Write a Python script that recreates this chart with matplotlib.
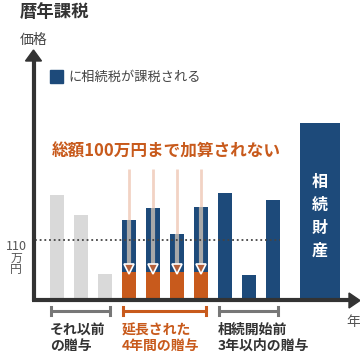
import matplotlib
matplotlib.use("Agg")
import matplotlib.pyplot as plt
from matplotlib.patches import Polygon

plt.rcParams['font.family'] = ['Noto Sans CJK JP', 'DejaVu Sans']

# values (arbitrary price units, 110 = 110万円 line)
threshold = 110
earlier_gifts = [192, 156, 48]
extended_gifts = [147, 169, 121, 170]
deducted = [51, 51, 51, 51]
recent_gifts = [196, 46, 183]
estate = 325
group_labels = ['それ以前\nの贈与', '延長された\n4年間の贈与', '相続開始前\n3年以内の贈与']

GRAY = '#d9d9d9'
BLUE = '#1d4a7a'
ORANGE = '#c85a1c'
DARK = '#333333'

K = threshold / 60.0  # value per pixel


def Y(py):
    # pixel row from top -> value
    return (300 - py) * K


fig = plt.figure(figsize=(3.6, 3.56), dpi=100)
ax = fig.add_axes([0, 0, 1, 1])
ax.set_xlim(0, 360)
ax.set_ylim(Y(356), Y(0))
ax.axis('off')

x0, step, w = 57, 24, 14
xs_early = [x0 + step * i for i in range(3)]
xs_ext = [x0 + step * (i + 3) for i in range(4)]
xs_recent = [x0 + step * (i + 7) for i in range(3)]

ax.bar(xs_early, earlier_gifts, width=w, color=GRAY, zorder=2)
ax.bar(xs_ext, deducted, width=w, color=ORANGE, zorder=2)
ax.bar(xs_ext, [h - d for h, d in zip(extended_gifts, deducted)], bottom=deducted,
       width=w, color=BLUE, zorder=2)
ax.bar(xs_recent, recent_gifts, width=w, color=BLUE, zorder=2)
ax.bar([320], [estate], width=40, color=BLUE, zorder=2)
for i, ch in enumerate('相続財産'):
    ax.text(320, Y(182 + 23 * i), ch, color='white', fontsize=11.5, fontweight='bold',
            ha='center', va='center', zorder=5)

# 110万円 line
ax.plot([35, 280], [threshold, threshold], ls=(0, (1, 1.6)), color='#444444', lw=1.3, zorder=4)
ax.text(16, Y(246), '110', fontsize=9, color='#555555', ha='center', va='center')
ax.text(16, Y(258), '万', fontsize=8.5, color='#555555', ha='center', va='center')
ax.text(16, Y(270), '円', fontsize=8.5, color='#555555', ha='center', va='center')

# arrows in extended bars
for x, h, d in zip(xs_ext, extended_gifts, deducted):
    ax.plot([x, x], [Y(169), h], color='#f2d3c4', lw=2, zorder=1, solid_capstyle='butt')
    ax.plot([x, x], [h, d + 6], color='#a8a8a8', lw=3, zorder=3, solid_capstyle='butt')
    ax.plot([x], [d + 6], marker='v', ms=7, mfc='#b5603a', mec='white', mew=1.2, zorder=4)

ax.text(52, Y(152), '総額100万円まで加算されない', color=ORANGE, fontsize=12,
        fontweight='bold', ha='left', va='center')

# axes with arrows
ax.plot([33.5, 33.5], [Y(301), Y(58)], color=DARK, lw=3, solid_capstyle='butt', zorder=5)
ax.plot([32, 352], [0, 0], color=DARK, lw=3, solid_capstyle='butt', zorder=5)
ax.add_patch(Polygon([(25.5, Y(61)), (41.5, Y(61)), (33.5, Y(50))], closed=True, color=DARK, zorder=5))
ax.add_patch(Polygon([(349, Y(293)), (349, Y(308)), (360, Y(300.5))], closed=True, color=DARK, zorder=5))

ax.text(20, Y(12), '暦年課税', fontsize=12.5, fontweight='bold', color=DARK, ha='left', va='center')
ax.text(20, Y(40), '価格', fontsize=10, color='#444444', ha='left', va='center')
ax.text(353, Y(322), '年', fontsize=10, color='#555555', ha='center', va='center')

# legend
ax.add_patch(Polygon([(50, Y(70)), (63, Y(70)), (63, Y(83)), (50, Y(83))], closed=True, color=BLUE))
ax.text(68, Y(77), 'に相続税が課税される', fontsize=9.5, color='#444444', ha='left', va='center')

# brackets and group labels
spans = [(50, 111), (122, 207), (218, 279)]
colors = ['#777777', ORANGE, '#777777']
text_colors = [DARK, ORANGE, DARK]
for (a, b), c, tc, lab in zip(spans, colors, text_colors, group_labels):
    ax.plot([a, b], [Y(311), Y(311)], color=c, lw=2.2, solid_capstyle='butt')
    ax.plot([a + 1, a + 1], [Y(307), Y(315)], color=c, lw=2.2)
    ax.plot([b - 1, b - 1], [Y(307), Y(315)], color=c, lw=2.2)
    ax.text(a, Y(338), lab, fontsize=10, fontweight='bold', color=tc, ha='left', va='center',
            linespacing=1.15)

fig.savefig('out.png', dpi=100)
